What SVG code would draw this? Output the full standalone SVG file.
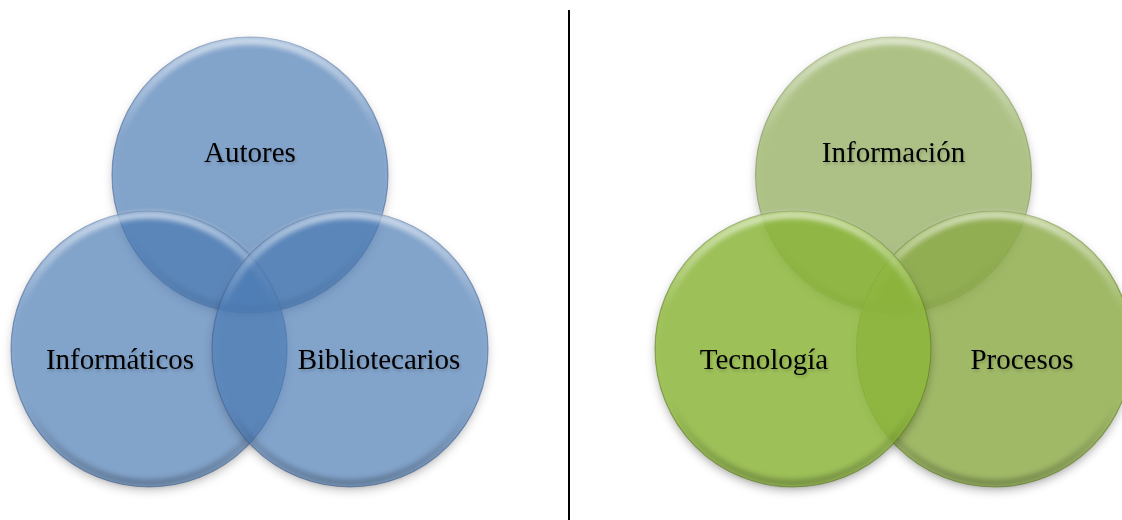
<svg xmlns="http://www.w3.org/2000/svg" width="1122" height="520" viewBox="0 0 1122 520">
  <defs>
    <filter id="shadow" x="-20%" y="-20%" width="140%" height="150%">
      <feDropShadow dx="0" dy="4" stdDeviation="4" flood-color="#000" flood-opacity="0.3"/>
    </filter>
    <filter id="soft" x="-10%" y="-10%" width="120%" height="120%">
      <feGaussianBlur stdDeviation="2.5"/>
    </filter>
    <filter id="txt" x="-10%" y="-30%" width="120%" height="160%">
      <feDropShadow dx="1" dy="2" stdDeviation="1.5" flood-color="#000" flood-opacity="0.2"/>
    </filter>
    <linearGradient id="bevel" x1="0" y1="0" x2="0" y2="1">
      <stop offset="0" stop-color="#fff" stop-opacity="0.6"/>
      <stop offset="0.35" stop-color="#fff" stop-opacity="0"/>
      <stop offset="0.7" stop-color="#000" stop-opacity="0"/>
      <stop offset="1" stop-color="#000" stop-opacity="0.25"/>
    </linearGradient>
  </defs>
  <style>
    .blue { fill: #4f7fbb; fill-opacity: 0.62; stroke: #3a5a86; stroke-opacity: 0.55; stroke-width: 1.2; }
    .gtop { fill: #9fb86e; fill-opacity: 0.75; stroke: #6f8445; stroke-opacity: 0.5; stroke-width: 1.2; }
    .gleft { fill: #8fba3c; fill-opacity: 0.8; stroke: #5d7a24; stroke-opacity: 0.6; stroke-width: 1.2; }
    .gright { fill: #91b04a; fill-opacity: 0.78; stroke: #5d7a24; stroke-opacity: 0.6; stroke-width: 1.2; }
    .ring { fill: none; stroke: url(#bevel); stroke-width: 7; }
    .label { font-family: "Liberation Serif", "Times New Roman", serif; font-size: 29px; fill: #000; text-anchor: middle; }
    .divider { stroke: #000; stroke-width: 2; }
  </style>

  <g id="divider-line">
    <line class="divider" x1="569" y1="10" x2="569" y2="520"/>
  </g>

  <g id="left-venn">
    <g id="node-autores">
      <circle class="blue" cx="250" cy="175" r="138" filter="url(#shadow)"/>
      <circle class="ring" cx="250" cy="175" r="134" filter="url(#soft)"/>
    </g>
    <g id="node-informaticos">
      <circle class="blue" cx="149" cy="349" r="138" filter="url(#shadow)"/>
      <circle class="ring" cx="149" cy="349" r="134" filter="url(#soft)"/>
    </g>
    <g id="node-bibliotecarios">
      <circle class="blue" cx="350" cy="349" r="138" filter="url(#shadow)"/>
      <circle class="ring" cx="350" cy="349" r="134" filter="url(#soft)"/>
    </g>
    <g id="left-labels" filter="url(#txt)">
      <text class="label" x="250" y="162">Autores</text>
      <text class="label" x="120" y="369">Informáticos</text>
      <text class="label" x="379" y="369">Bibliotecarios</text>
    </g>
  </g>

  <g id="right-venn">
    <g id="node-informacion">
      <circle class="gtop" cx="893.5" cy="175" r="138" filter="url(#shadow)"/>
      <circle class="ring" cx="893.5" cy="175" r="134" filter="url(#soft)"/>
    </g>
    <g id="node-procesos">
      <circle class="gright" cx="994.5" cy="349" r="138" filter="url(#shadow)"/>
      <circle class="ring" cx="994.5" cy="349" r="134" filter="url(#soft)"/>
    </g>
    <g id="node-tecnologia">
      <circle class="gleft" cx="793" cy="349" r="138" filter="url(#shadow)"/>
      <circle class="ring" cx="793" cy="349" r="134" filter="url(#soft)"/>
    </g>
    <g id="right-labels" filter="url(#txt)">
      <text class="label" x="893.5" y="162">Información</text>
      <text class="label" x="764" y="369">Tecnología</text>
      <text class="label" x="1022" y="369">Procesos</text>
    </g>
  </g>
</svg>
